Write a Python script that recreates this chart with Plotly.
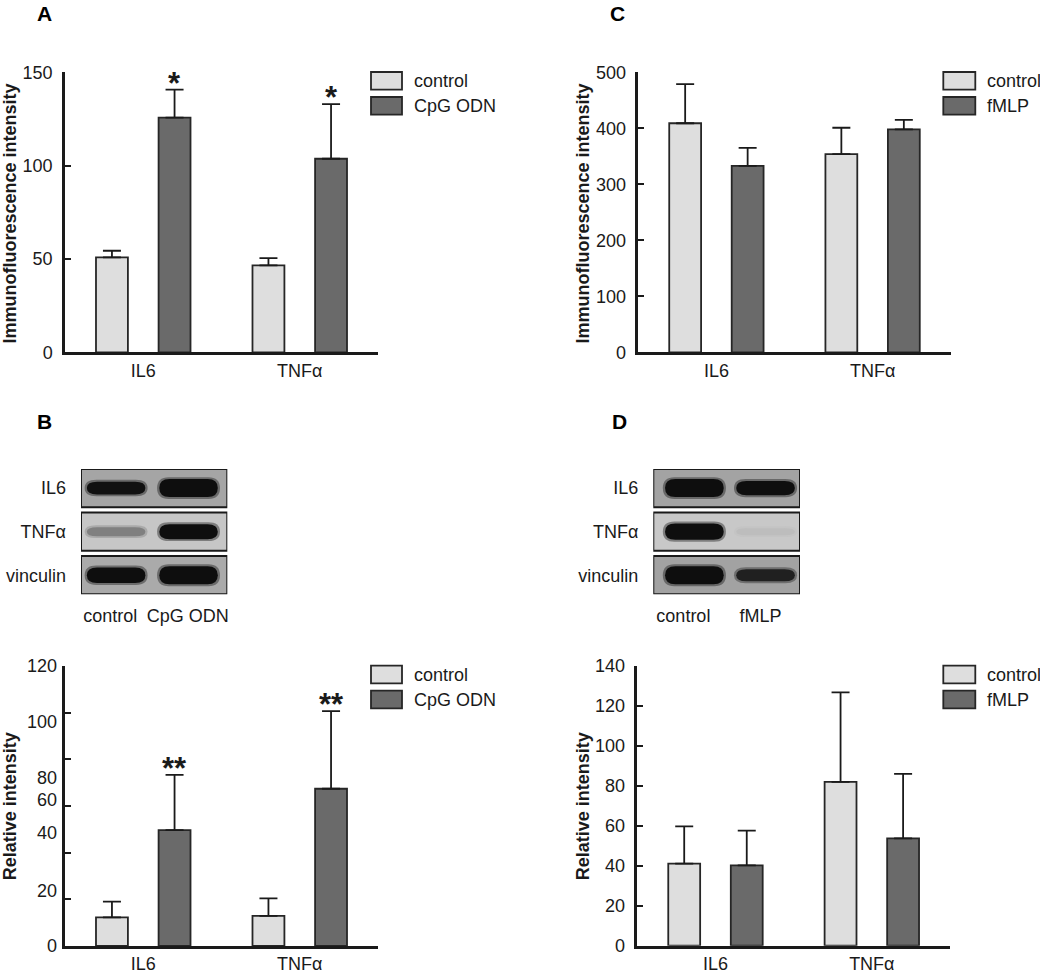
import plotly.graph_objects as go

W, H = 1040, 972

# ---- data ----
GENES = ["IL6", "TNFα"]

A_CONTROL = [50.9, 46.6]
A_CONTROL_ERR = [3.5, 3.9]
A_CPG = [125.7, 103.7]
A_CPG_ERR = [15.0, 29.2]
A_STARS = ["*", "*"]

C_CONTROL = [409, 354]
C_CONTROL_ERR = [70, 47]
C_FMLP = [333, 398]
C_FMLP_ERR = [32, 17]

B_CONTROL = [12.3, 12.9]
B_CONTROL_ERR = [6.7, 7.5]
B_CPG = [49.7, 67.4]
B_CPG_ERR = [23.6, 33.3]
B_STARS = ["**", "**"]

D_CONTROL = [41.0, 81.9]
D_CONTROL_ERR = [18.7, 44.8]
D_FMLP = [40.2, 53.7]
D_FMLP_ERR = [17.3, 32.2]

# panel B tick labels sit off their tick marks in the original
B_TICKS = [0, 20, 40, 60, 80, 100, 120]
B_TICK_TEXT = ["0", "20", "40", "60", "80", "100", "120"]
B_TICK_TEXT_AT = [0, 23.7, 48.3, 62.6, 71.9, 96.1, 120]

# western blots: rows, lanes, band strength (0..1) per lane
BLOT_ROWS = ["IL6", "TNFα", "vinculin"]
B_LANES = ["control", "CpG ODN"]
B_BANDS = [[0.55, 1.0], [0.25, 0.75], [0.8, 1.0]]
D_LANES = ["control", "fMLP"]
D_BANDS = [[1.0, 0.7], [0.85, 0.08], [1.0, 0.5]]

# ---- style ----
FONT = "Liberation Sans, Arial, sans-serif"
INK = "#1a1a1a"
LIGHT = "#dedede"
DARK = "#6a6a6a"
BAR_LINE = "#262626"


def dx(a, b):
    return [a / W, b / W]


def dy(top, bottom):
    return [1 - bottom / H, 1 - top / H]


def px_x(v):
    return v / W


def px_y(v):
    return 1 - v / H


fig = go.Figure()

panels = [
    # name, xaxis, yaxis, x-domain px, y-domain px, range, dtick, series
    ("A", "x", "y", (65, 378), (72.3, 352.3), 150, 50,
     (A_CONTROL, A_CONTROL_ERR), (A_CPG, A_CPG_ERR), A_STARS),
    ("C", "x2", "y2", (638.3, 950.7), (72.3, 352.3), 500, 100,
     (C_CONTROL, C_CONTROL_ERR), (C_FMLP, C_FMLP_ERR), None),
    ("B", "x3", "y3", (65, 378), (666, 946), 120, 20,
     (B_CONTROL, B_CONTROL_ERR), (B_CPG, B_CPG_ERR), B_STARS),
    ("D", "x4", "y4", (637.3, 950), (665.7, 945.7), 140, 20,
     (D_CONTROL, D_CONTROL_ERR), (D_FMLP, D_FMLP_ERR), None),
]

layout_axes = {}
for name, xa, ya, xd, yd, top, dt, ctrl, trt, stars in panels:
    for (vals, errs), col in ((ctrl, LIGHT), (trt, DARK)):
        fig.add_trace(go.Bar(
            x=GENES, y=vals, xaxis=xa, yaxis=ya,
            marker=dict(color=col, line=dict(color=BAR_LINE, width=1.8)),
            error_y=dict(type="data", array=errs, arrayminus=[0] * len(errs),
                         symmetric=False, color=INK, thickness=1.8, width=9),
        ))
    xkey = "xaxis" + xa[1:]
    ykey = "yaxis" + ya[1:]
    layout_axes[xkey] = dict(
        domain=dx(*xd), anchor=ya, range=[-0.5, 1.5], showline=True,
        linewidth=2.5, linecolor=INK, ticks="", showgrid=False, zeroline=False,
        tickfont=dict(size=18, color=INK, family=FONT), ticklabelstandoff=0,
        automargin=False,
    )
    layout_axes[ykey] = dict(
        domain=dy(*yd), anchor=xa, range=[0, top], dtick=dt, showline=True,
        linewidth=2.5, linecolor=INK, ticks="inside", ticklen=6, tickwidth=2,
        tickcolor=INK, showgrid=False, zeroline=False,
        tickfont=dict(size=18, color=INK, family=FONT), ticklabelstandoff=6,
        automargin=False,
    )
    if stars:
        for i, s in enumerate(stars):
            fig.add_annotation(
                x=i + 0.2, y=trt[0][i] + trt[1][i], xref=xa, yref=ya,
                text="<b>%s</b>" % s, showarrow=False, xanchor="center",
                yanchor="bottom", yshift=-13,
                font=dict(size=31, color=INK, family=FONT),
            )

# panel B: tick marks only, the labels are placed where the original has them
layout_axes["yaxis3"].update(tickvals=B_TICKS, showticklabels=False, dtick=None)
for val, lab in zip(B_TICK_TEXT_AT, B_TICK_TEXT):
    fig.add_annotation(x=px_x(59), y=val, xref="paper", yref="y3", text=lab,
                       showarrow=False, xanchor="right", yanchor="middle",
                       font=dict(size=18, color=INK, family=FONT))

# ---- western blots ----
ROW_STEP = 1.14
BLOT_BG = {"B": ["#a5a5a5", "#c6c6c6", "#aaaaaa"],
           "D": ["#a3a3a3", "#c8c8c8", "#a2a2a2"]}
BAND_X = {"B": [0.48, 1.47], "D": [0.56, 1.53]}
LANE_LABEL_X = {"B": [0.40, 1.46], "D": [0.41, 1.46]}


def mix(bg, t):
    v = int(bg[1:3], 16)
    g = round(v + (14 - v) * t)
    return "#%02x%02x%02x" % (g, g, g)


def band_path(x0, x1, y0, y1, r):
    ym = (y0 + y1) / 2
    return ("M %f,%f L %f,%f Q %f,%f %f,%f Q %f,%f %f,%f L %f,%f "
            "Q %f,%f %f,%f Q %f,%f %f,%f Z" % (
                x0 + r, y0, x1 - r, y0, x1, y0, x1, ym, x1, y1, x1 - r, y1,
                x0 + r, y1, x0, y1, x0, ym, x0, y0, x0 + r, y0))


blots = [("B", "x5", "y5", (81, 227.3), B_LANES, B_BANDS),
         ("D", "x6", "y6", (653.3, 800), D_LANES, D_BANDS)]
for name, xa, ya, xd, lanes, bands in blots:
    layout_axes["xaxis" + xa[1:]] = dict(
        domain=dx(*xd), anchor=ya, range=[0, 2], side="bottom",
        tickvals=LANE_LABEL_X[name], ticktext=lanes, ticks="", showline=False,
        showgrid=False, zeroline=False, ticklabelstandoff=9,
        tickfont=dict(size=18, color=INK, family=FONT), automargin=False,
    )
    layout_axes["yaxis" + ya[1:]] = dict(
        domain=dy(469, 594.3), anchor=xa, range=[2 * ROW_STEP + 1, 0],
        tickvals=[i * ROW_STEP + 0.5 for i in range(len(BLOT_ROWS))],
        ticktext=BLOT_ROWS, ticks="", showline=False, showgrid=False,
        zeroline=False, ticklabelstandoff=14, automargin=False,
        tickfont=dict(size=18, color=INK, family=FONT),
    )
    for r, row in enumerate(BLOT_ROWS):
        top = r * ROW_STEP
        bg = BLOT_BG[name][r]
        fig.add_shape(type="rect", xref=xa, yref=ya, x0=0, x1=2, y0=top, y1=top + 1,
                      fillcolor=bg, line=dict(color=INK, width=2), layer="below")
        for k, s in enumerate(bands[r]):
            t = min(1.0, max(0.06, 2 * s - 0.12))
            col = mix(bg, t)
            h = (6 + 12 * s) / 38.1
            cx = BAND_X[name][k]
            w = 0.8
            mid = top + 0.5
            fig.add_shape(type="path", xref=xa, yref=ya,
                          path=band_path(cx - w / 2 - 0.03, cx + w / 2 + 0.03,
                                         mid - h / 2 - 0.05, mid + h / 2 + 0.05, 0.16),
                          fillcolor=col, opacity=0.4, line=dict(width=0))
            fig.add_shape(type="path", xref=xa, yref=ya,
                          path=band_path(cx - w / 2, cx + w / 2,
                                         mid - h / 2, mid + h / 2, 0.14),
                          fillcolor=col, line=dict(width=0))

# ---- legends (drawn by hand, boxes are wider than plotly's swatches) ----
legends = [((371, 402), 72, ["control", "CpG ODN"]),
           ((943.3, 975.3), 72, ["control", "fMLP"]),
           ((371, 402), 665.7, ["control", "CpG ODN"]),
           ((943.3, 975.3), 665.7, ["control", "fMLP"])]
for (x0, x1), y0, labels in legends:
    for i, (lab, col) in enumerate(zip(labels, (LIGHT, DARK))):
        top = y0 + i * 25
        fig.add_shape(type="rect", xref="paper", yref="paper",
                      x0=px_x(x0), x1=px_x(x1), y0=px_y(top), y1=px_y(top + 17.6),
                      fillcolor=col, line=dict(color=BAR_LINE, width=1.8))
        fig.add_annotation(x=px_x(x1 + 10), y=px_y(top + 8.8), xref="paper",
                           yref="paper", text=lab, showarrow=False,
                           xanchor="left", yanchor="middle",
                           font=dict(size=18, color=INK, family=FONT))

# panel letters and y titles
for letter, x, y in (("A", 44, 14), ("C", 617, 14), ("B", 44, 421.5), ("D", 619, 421.5)):
    fig.add_annotation(x=px_x(x), y=px_y(y), xref="paper", yref="paper",
                       text="<b>%s</b>" % letter, showarrow=False,
                       xanchor="center", yanchor="middle",
                       font=dict(size=21, color="#000", family=FONT))
for text, x, y in (("Immunofluorescence intensity", 9.5, 214),
                   ("Immunofluorescence intensity", 582.5, 214),
                   ("Relative intensity", 9.5, 806.7),
                   ("Relative intensity", 582.5, 806.7)):
    fig.add_annotation(x=px_x(x), y=px_y(y), xref="paper", yref="paper",
                       text="<b>%s</b>" % text, textangle=-90, showarrow=False,
                       xanchor="center", yanchor="middle",
                       font=dict(size=18, color=INK, family=FONT))

fig.update_layout(
    template="none",
    width=W, height=H, margin=dict(l=0, r=0, t=0, b=0, autoexpand=False),
    paper_bgcolor="white", plot_bgcolor="white", showlegend=False,
    barmode="group", bargap=0.2, bargroupgap=0.49,
    font=dict(family=FONT, color=INK),
    **layout_axes,
)

# the page's default body margin would shift the figure by 8px
fig.write_html("out.html", config={"displayModeBar": False},
               post_script="document.body.style.margin = '0';")
